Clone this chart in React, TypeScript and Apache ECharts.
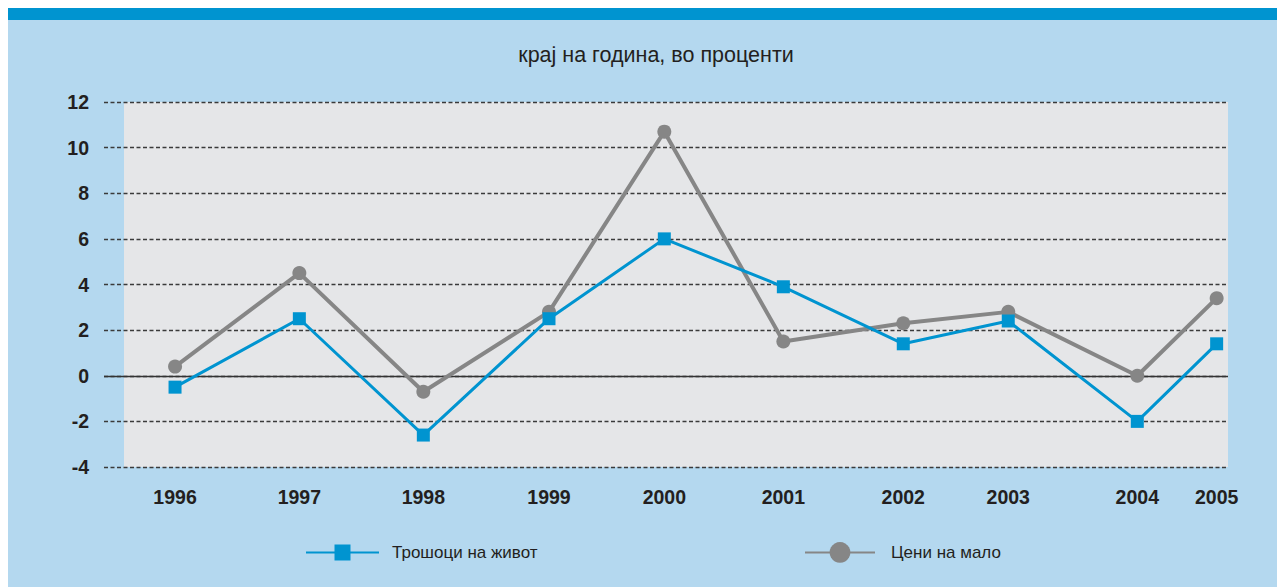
import React, { useEffect, useRef } from "react";
import * as echarts from "echarts";

const years = ["1996", "1997", "1998", "1999", "2000", "2001", "2002", "2003", "2004", "2005"];
// horizontal positions of each year along the axis (0..100)
const yearPositions = [6.32, 17.38, 28.41, 39.59, 49.85, 60.44, 71.11, 80.45, 91.93, 98.99];
const costOfLiving = [-0.5, 2.5, -2.6, 2.5, 6.0, 3.9, 1.4, 2.4, -2.0, 1.4];
const retailPrices = [0.4, 4.5, -0.7, 2.8, 10.7, 1.5, 2.3, 2.8, 0.0, 3.4];
const yTicks = [-4, -2, 0, 2, 4, 6, 8, 10, 12];

const titleText = "крај на година, во проценти";
const seriesNames = ["Трошоци на живот", "Цени на мало"];

const FONT = "'Liberation Sans', Arial, sans-serif";
const BLUE = "#0094d0";
const GREY = "#868686";
const TEXT = "#231f20";

export default function App() {
  const ref = useRef<HTMLDivElement>(null);
  useEffect(() => {
    if (!ref.current) return;
    const chart = echarts.init(ref.current, null, { renderer: "svg" });
    const pts = (vals: number[]) => vals.map((v, i) => [yearPositions[i], v]);
    chart.setOption({
      animation: false,
      backgroundColor: "#b4d8ef",
      graphic: [
        { type: "rect", left: 0, top: 0, z: -100, shape: { width: 1269, height: 12 }, style: { fill: BLUE } },
        { type: "rect", left: 116, top: 94, z: -100, shape: { width: 1104, height: 365 }, style: { fill: "#e5e6e8" } },
      ],
      title: {
        text: titleText,
        left: 643,
        top: 31,
        textAlign: "center",
        textStyle: { fontFamily: FONT, fontWeight: "normal", fontSize: 21.5, color: TEXT },
      },
      legend: [
        {
          data: [seriesNames[0]],
          left: 292,
          top: 531,
          itemWidth: 73,
          itemHeight: 20,
          textStyle: { fontFamily: FONT, fontSize: 17, color: TEXT, padding: [0, 0, 0, 8] },
        },
        {
          data: [seriesNames[1]],
          left: 791,
          top: 529,
          itemWidth: 70,
          itemHeight: 26,
          textStyle: { fontFamily: FONT, fontSize: 17, color: TEXT, padding: [0, 0, 0, 11] },
        },
      ],
      grid: { left: 96, right: 49, top: 94, bottom: 120, containLabel: false },
      xAxis: {
        type: "value",
        min: 0,
        max: 100,
        axisLine: { show: false },
        axisTick: { show: false },
        splitLine: { show: false },
        axisLabel: {
          customValues: yearPositions,
          formatter: (v: number) => {
            const i = yearPositions.indexOf(v);
            return i >= 0 ? years[i] : "";
          },
          margin: 20,
          fontFamily: FONT,
          fontWeight: "bold",
          fontSize: 19.5,
          color: TEXT,
        },
      },
      yAxis: {
        type: "value",
        min: yTicks[0],
        max: yTicks[yTicks.length - 1],
        interval: 2,
        axisLine: { show: false },
        axisTick: { show: false },
        splitLine: { show: true, lineStyle: { color: "#3a3a3a", width: 1.3, type: [4, 2.5] } },
        axisLabel: {
          margin: 15,
          fontFamily: FONT,
          fontWeight: "bold",
          fontSize: 19.5,
          color: TEXT,
        },
      },
      series: [
        {
          name: seriesNames[1],
          type: "line",
          data: pts(retailPrices),
          symbol: "circle",
          symbolSize: 14,
          lineStyle: { color: GREY, width: 4 },
          itemStyle: { color: GREY },
          z: 3,
          markLine: {
            silent: true,
            symbol: "none",
            label: { show: false },
            lineStyle: { color: "#333", width: 1.3, type: "solid" },
            data: [{ yAxis: 0 }],
            z: 1,
          },
        },
        {
          name: seriesNames[0],
          type: "line",
          data: pts(costOfLiving),
          symbol: "rect",
          symbolSize: 13,
          lineStyle: { color: BLUE, width: 3 },
          itemStyle: { color: BLUE },
          z: 4,
        },
      ],
    });
    return () => chart.dispose();
  }, []);
  return (
    <div
      ref={ref}
      style={{ position: "fixed", left: 8, top: 8, width: 1269, height: 579 }}
    />
  );
}
